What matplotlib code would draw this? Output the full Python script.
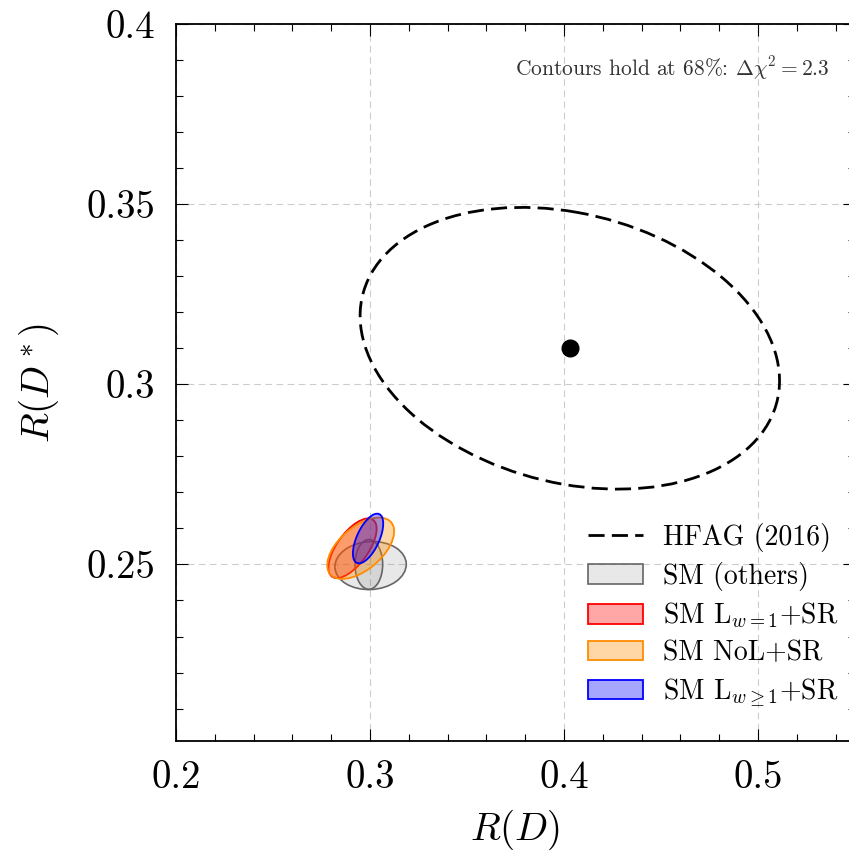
#!/usr/bin/env python
import matplotlib
matplotlib.use('Agg')

import numpy as np
from matplotlib import rc
from matplotlib import pyplot as plt
from matplotlib.patches import Ellipse, Patch
from matplotlib.lines import Line2D
from matplotlib.ticker import FixedLocator, MultipleLocator, FuncFormatter

# contours are drawn at n_sig * sigma
n_sig = 2.3

# HFAG (2016) average
hfag_rd, hfag_rds = 0.403, 0.310
hfag_err_rd, hfag_err_rds = 0.047, 0.017
hfag_rho = -0.23

# SM predictions from other groups
others_rd = [0.3003, 0.2994]
others_rds = [0.2497, 0.2500]
others_err_rd = [0.0080, 0.0031]
others_err_rds = [0.0029, 0.0030]
others_rho = [0.05, 0.0]

# our fits: L_{w=1}+SR, NoL+SR, L_{w>=1}+SR
fit_rd = [0.2910, 0.2952, 0.2990]
fit_rds = [0.2545, 0.2545, 0.2572]
fit_err_rd = [0.0054, 0.0075, 0.0034]
fit_err_rds = [0.0036, 0.0037, 0.0030]
fit_rho = [0.65, 0.55, 0.6]

fit_labels = [r'SM L$_{w=1}$+SR', 'SM NoL+SR', r'SM L$_{w\geq1}$+SR']
fit_colors = ['red', 'darkorange', 'blue']

x_ticks = [0.2, 0.3, 0.4, 0.5]
y_ticks = [0.25, 0.3, 0.35, 0.4]


def initialize_matplotlib():
    rc('font', family='serif')
    rc('font', serif=['cmr10'])
    rc('mathtext', fontset='cm')
    plt.rcParams['axes.formatter.use_mathtext'] = True
    rc('axes', unicode_minus=False)
    rc('axes', linewidth=1.3)


def cov_ellipse(ax, x, y, sx, sy, rho, **kw):
    cov = np.array([[sx * sx, rho * sx * sy], [rho * sx * sy, sy * sy]]) * n_sig ** 2
    vals, vecs = np.linalg.eigh(cov)
    angle = np.degrees(np.arctan2(vecs[1, 1], vecs[0, 1]))
    e = Ellipse((x, y), 2 * np.sqrt(vals[1]), 2 * np.sqrt(vals[0]), angle=angle, **kw)
    ax.add_patch(e)
    return e


def main():
    initialize_matplotlib()
    fig = plt.figure(figsize=(8.49, 8.58), dpi=100)
    ax = fig.add_axes([176 / 849, 117 / 858, 679 / 849, 717 / 858])

    gray_face = (0.5, 0.5, 0.5, 0.18)
    for i in range(len(others_rd)):
        cov_ellipse(ax, others_rd[i], others_rds[i], others_err_rd[i], others_err_rds[i],
                    others_rho[i], facecolor=gray_face, edgecolor='0.4', lw=1.2, zorder=2)

    for i in range(len(fit_rd)):
        c = matplotlib.colors.to_rgb(fit_colors[i])
        cov_ellipse(ax, fit_rd[i], fit_rds[i], fit_err_rd[i], fit_err_rds[i], fit_rho[i],
                    facecolor=c + (0.35,), edgecolor=c, lw=1.3, zorder=3)

    cov_ellipse(ax, hfag_rd, hfag_rds, hfag_err_rd, hfag_err_rds, hfag_rho,
                facecolor='none', edgecolor='black', lw=2.0,
                linestyle=(0, (5.8, 2.6)), zorder=4)
    ax.plot([hfag_rd], [hfag_rds], 'o', color='black', ms=12, zorder=5)

    ax.set_xlim(0.2, 0.55)
    ax.set_ylim(0.201, 0.4)

    fmt = FuncFormatter(lambda v, p: '%g' % v)
    ax.xaxis.set_major_locator(FixedLocator(x_ticks))
    ax.yaxis.set_major_locator(FixedLocator(y_ticks))
    ax.xaxis.set_minor_locator(MultipleLocator(0.02))
    ax.yaxis.set_minor_locator(MultipleLocator(0.01))
    ax.xaxis.set_major_formatter(fmt)
    ax.yaxis.set_major_formatter(fmt)
    ax.tick_params(which='both', direction='in', top=True, right=True, labelsize=28)
    ax.tick_params(which='major', length=8.6, width=0.8)
    ax.tick_params(which='minor', length=5, width=0.8)
    ax.tick_params(axis='x', which='major', pad=14)
    ax.tick_params(axis='y', which='major', pad=15)

    ax.set_axisbelow(True)
    ax.grid(True, which='major', color='#cccccc', linestyle=(0, (6, 4)), linewidth=0.8)

    ax.set_xlabel('$R(D)$', fontsize=28, labelpad=8)
    ax.set_ylabel('$R(D^*)$', fontsize=28, labelpad=18)

    ax.text(0.962, 0.939, r'Contours hold at 68%: $\Delta\chi^2 = 2.3$',
            transform=ax.transAxes, ha='right', va='center', fontsize=15.5, color='0.2')

    handles = [Line2D([], [], color='black', lw=2.0, linestyle=(0, (5.8, 2.6))),
               Patch(facecolor=gray_face, edgecolor='0.4', lw=1.2)]
    labels = ['HFAG (2016)', 'SM (others)']
    for i in range(len(fit_labels)):
        c = matplotlib.colors.to_rgb(fit_colors[i])
        handles.append(Patch(facecolor=c + (0.35,), edgecolor=c, lw=1.3))
        labels.append(fit_labels[i])
    ax.legend(handles, labels, loc='lower right', bbox_to_anchor=(0.975, 0.045),
              frameon=False, fontsize=20, handlelength=2.0, handletextpad=0.7,
              labelspacing=0.35, borderpad=0, borderaxespad=0)

    fig.savefig('out.png', dpi=100)


if __name__ == '__main__':
    main()
